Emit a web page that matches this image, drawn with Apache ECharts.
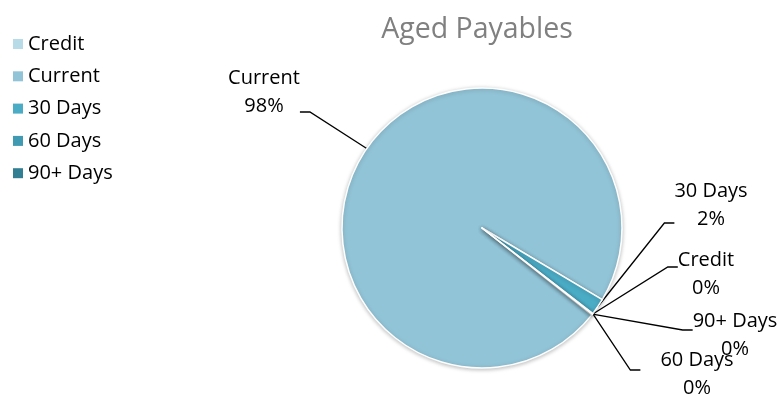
<!DOCTYPE html>
<html>
<head>
<meta charset="utf-8">
<script src="https://cdn.jsdelivr.net/npm/echarts@6/dist/echarts.min.js"></script>
<style>
html,body{margin:0;padding:0;background:#fff;}
#chart{width:779px;height:396px;}
</style>
</head>
<body>
<div id="chart"></div>
<script>
const categories = ['Credit', 'Current', '30 Days', '60 Days', '90+ Days'];
const values = [0.1, 97.9, 1.9, 0.05, 0.05];
const colors = ['#b7dbe7', '#92c4d7', '#4bacc6', '#3f9ab2', '#327f94'];
const chartTitle = 'Aged Payables';

// label text centres and leader-line attachment padding [top, right, bottom, left] (layout only)
const labelBox = {
  'Current':  {x: 264, y: 92,  pad: [0, 0, 40, 0]},
  '30 Days':  {x: 711, y: 205, pad: [0, 0, 36, 0]},
  'Credit':   {x: 706, y: 274, pad: [14, 0, 0, 0]},
  '90+ Days': {x: 735, y: 335, pad: [10, 0, 0, 0]},
  '60 Days':  {x: 697, y: 374, pad: [8, 0, 0, 20]}
};
const LINE_H = 28;

const chart = echarts.init(document.getElementById('chart'), null, {renderer: 'canvas'});
const font = 'Open Sans';
chart.setOption({
  animation: false,
  color: colors,
  title: {
    text: chartTitle,
    left: 472, top: 10, textAlign: 'center',
    textStyle: {fontFamily: font, fontSize: 28.5, fontWeight: 'normal', color: '#808080'}
  },
  legend: {
    orient: 'vertical',
    left: 8, top: 29,
    itemWidth: 10, itemHeight: 10, itemGap: 12.3,
    icon: 'rect',
    data: categories,
    itemStyle: {borderWidth: 0, shadowBlur: 0},
    textStyle: {fontFamily: font, fontSize: 20, color: '#000', lineHeight: 20, padding: [0, 0, 0, 0]}
  },
  series: [{
    type: 'pie',
    center: [482, 228],
    radius: 140,
    startAngle: -38,
    clockwise: true,
    avoidLabelOverlap: false,
    itemStyle: {borderColor: '#fff', borderWidth: 1.5, shadowBlur: 4, shadowColor: 'rgba(0,0,0,0.25)', shadowOffsetY: 1},
    data: categories.map((c, i) => ({
      name: c, value: values[i],
      label: {padding: labelBox[c].pad}
    })),
    label: {
      show: true,
      position: 'outside',
      fontFamily: font, fontSize: 20, color: '#000', lineHeight: LINE_H, align: 'center',
      formatter: p => p.name + '\n' + Math.round(p.percent) + '%'
    },
    labelLine: {show: true, length: 15, length2: 10, lineStyle: {color: '#000', width: 1.3}},
    labelLayout: function (p) {
      const b = labelBox[categories[p.dataIndex]];
      const pd = b.pad;
      return {
        x: b.x + (pd[1] - pd[3]) / 2,
        y: b.y - pd[0] - LINE_H,
        align: 'center', verticalAlign: 'top'
      };
    },
    emphasis: {disabled: true}
  }]
});
</script>
</body>
</html>
